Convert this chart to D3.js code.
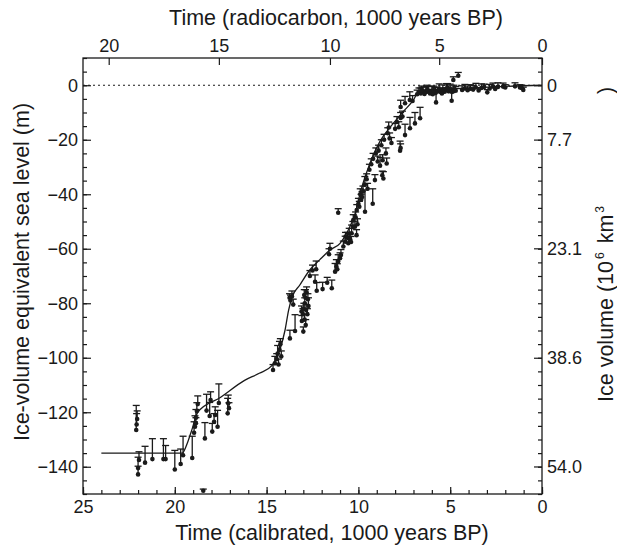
<!DOCTYPE html>
<html>
<head>
<meta charset="utf-8">
<script src="https://cdn.jsdelivr.net/npm/d3@7"></script>
<style>
  body { margin: 0; background: #fff; }
  svg text { font-family: "Liberation Sans", Arial, sans-serif; fill: #1a1a1a; }
  .tick line { stroke: #1a1a1a; stroke-width: 1.2; }
</style>
</head>
<body>
<script>
// calibrated ticks (kyr BP) and the radiocarbon ages that fall on them
const calTicks = [25, 20, 15, 10, 5, 0]
const c14Labels = ["20", "15", "10", "5", "0"]
const c14AtCal = [23.6, 17.6, 11.55, 5.6, 0]

const seaTicks = [0, -20, -40, -60, -80, -100, -120, -140]
const iceLabels = ["0", "7.7", "23.1", "38.6", "54.0"]
const iceVolume = [0, 7.7, 23.1, 38.6, 54.0]

// fitted sea-level curve [cal kyr BP, m]
const curve = [[24,-135],[19.6,-135],[19.3,-131],[19.05,-126],[18.75,-120],[17.5,-114.5],[16.2,-108.3],
  [15.4,-105.7],[14.7,-102.8],[14.3,-97.5],[14.0,-90],[13.8,-82.5],[13.6,-77.5],[13.2,-73.4],[12.65,-67.8],
  [12.1,-64],[11.55,-60.5],[11.0,-58],[10.6,-53.8],[10.2,-47.5],[9.82,-37.5],[9.37,-28.6],[8.82,-20.5],
  [8.2,-14.8],[7.55,-9.6],[7.0,-5.4],[6.8,-3.2],[6.3,-2.2],[5.9,-1.7],[4.1,-1.1],[2.3,-0.5],[0,0]]

// samples [cal kyr BP, sea level m, upper error m]
const lgmPoints = [[22.1,-126.5,9],[22.08,-124.5,4],[22.05,-122.5,3],[22.0,-142.8,3],[22.0,-140.5,4],[21.95,-137.5,3],
  [21.62,-138.5,6],[21.22,-137.2,7.5],[20.62,-137.2,7.5],[20.5,-137.2,5],[20.0,-141,7],[19.68,-139,5.5],
  [19.55,-135.8,7],[19.05,-136.8,8],[18.95,-127.5,4],[18.9,-125.3,4],[18.85,-122,3],[18.8,-119.5,3],
  [18.75,-117,3],[18.85,-124,2],[18.36,-129.6,5.8],[18.27,-119.4,6],[18.1,-121.4,5],[18.05,-115.5,3],
  [17.96,-127.1,3],[17.86,-123.5,3],[17.8,-121,3],[17.67,-125.3,6],[17.6,-116.6,7],[17.12,-120.4,5.5],
  [17.09,-116.7,3],[17.05,-118.5,2],[18.45,-148.8,0.6]]

const deglacialPoints = [[14.65,-104.5,2],[14.55,-102,2.5],[14.45,-100.5,2],[14.4,-98.5,3],[14.3,-97,3],
  [14.25,-95,2],[14.35,-102.5,2],[14.2,-99.5,2],[13.73,-92.9,3],[13.45,-90.2,6],[13.0,-90.4,1.7],
  [13.7,-79,2],[13.62,-77.5,2],[13.55,-80.5,2],[13.75,-78,1.5],[13.08,-86.5,2],[13.02,-84,2],[12.97,-82,2],
  [12.92,-80,2],[12.88,-78,3],[12.82,-76,2],[12.78,-84,2],[12.72,-81,3],[12.93,-86,2],[12.87,-88,2],
  [13.1,-83,2],[12.75,-78.5,2],[12.95,-77,2],[12.85,-82.5,2],[12.64,-70,2],[12.5,-68,2],[12.36,-72.1,2.5],
  [12.27,-75.4,3],[12.3,-67.5,3],[11.95,-74.8,2.5],[11.45,-74.5,3],[11.7,-72.5,2],[11.55,-60,2],[11.6,-62,2],
  [11.27,-68.4,3],[11.2,-66.5,2.5],[11.1,-64.7,2.5],[11.0,-63.5,2],[10.95,-62.3,2],[11.15,-67.5,2],
  [10.82,-59.2,2],[10.72,-57.4,2],[10.6,-56,2],[10.55,-58,2],[10.45,-56.5,2],[10.37,-54.3,3],[10.3,-52,2],
  [10.19,-51.9,2],[10.28,-49.5,2],[10.15,-48.5,2],[10.1,-55,2],[10.05,-51,2],[10.4,-57.5,2],[10.5,-54.5,2],
  [10.7,-55.5,1.5],[11.1,-46.8,1.5]]

const earlyHolocenePoints = [[10.09,-45.8,2],[9.95,-44.6,2],[9.85,-42,2],[9.75,-39,2],[9.64,-46.4,8],
  [9.65,-36.5,3],[9.55,-34.5,2],[9.5,-38,2],[9.9,-40,2],[10.0,-43.5,2],[9.8,-41,2],[9.22,-43.5,5.5],
  [9.1,-34.8,2],[8.64,-34.2,2.5],[8.7,-33,1.5],[9.2,-27,2],[9.05,-25,2],[8.95,-28,2],[8.82,-29.5,3],
  [8.68,-27.5,2],[8.46,-28.7,2],[8.5,-25,2],[9.3,-29,2],[9.4,-31,2],[8.4,-17.6,2],[8.3,-19.5,2],[8.2,-21.2,2],
  [8.35,-15.5,2],[8.6,-20,2],[8.75,-22,2],[8.9,-24,2],[7.73,-24,3.5],[7.7,-23,1.5],[7.9,-13.5,2],[7.8,-15.4,2],
  [7.7,-12,2],[8.0,-16,2],[7.6,-11.5,2],[7.46,-18.3,4],[7.19,-15.8,4],[6.92,-14,4],[6.64,-12.1,4],
  [7.46,-6.6,2.5],[7.2,-5.4,3],[7.7,-8,2.5],[7.05,-5.8,2]]

const lateHolocenePoints = [[6.8,-3.3,1.5],[6.7,-2.5,1.5],[6.6,-3,2],[6.5,-2.2,1.5],[6.4,-3.2,1.5],[6.3,-2.5,2],
  [6.2,-2,1.5],[6.1,-3,1.5],[6.0,-2.4,2],[5.9,-1.8,1.5],[5.8,-2.8,2],[5.7,-2.2,1.5],[5.6,-1.5,2],[5.5,-2.6,1.5],
  [5.4,-1.9,2],[5.3,-2.4,1.5],[5.2,-1.4,2],[5.1,-2.2,1.5],[5.0,-1.6,2],[4.9,-2.5,1.5],[4.8,-1.5,1.5],[4.7,-2,1.5],
  [6.55,-1.8,1.5],[6.25,-1.5,1.5],[5.95,-3.3,1.5],[5.45,-3,1.5],[5.15,-0.9,1.5],[5.77,-6.3,3.5],[4.92,-5.7,3],
  [4.83,1.9,1.2],[4.56,3.5,1.2],[4.35,-1.7,1.5],[4.2,-1.2,1.5],[4.05,-1.8,1.5],[3.9,-1.3,1.5],[3.75,-1.6,1.5],
  [3.6,-0.8,1.5],[3.45,-1.9,1],[3.3,-1,1.5],[3.15,-0.6,1],[2.98,-2.6,1],[2.85,-1.2,1.5],[2.67,-0.5,1.3],
  [2.55,-1.4,1],[2.4,-0.6,1.5],[2.12,-0.5,1.3],[2.0,-0.8,1],[1.47,-0.4,1.3],[1.2,-0.8,1],[1.02,-1.7,1],[1.1,-1,1]]

const samples = lgmPoints.concat(deglacialPoints, earlyHolocenePoints, lateHolocenePoints)

const W = 617, H = 545
const m = { left: 83, right: 542, top: 58, bottom: 494 }

const svg = d3.select("body").append("svg").attr("width", W).attr("height", H)

const x = d3.scaleLinear().domain([25, 0]).range([m.left, m.right])
const y = d3.scaleLinear().domain([-150, 10]).range([m.bottom, m.top])
// ice volume (10^6 km3) per metre of sea level
const icePerM = 0.386
const yIce = d3.scaleLinear().domain([-10 * icePerM, 150 * icePerM]).range([m.top, m.bottom])

const ink = "#1a1a1a"

// zero line
svg.append("line")
  .attr("x1", m.left).attr("x2", m.right)
  .attr("y1", y(0)).attr("y2", y(0))
  .attr("stroke", ink).attr("stroke-width", 1)
  .attr("stroke-dasharray", "2,3")

// minor ticks
const minorT = d3.range(0, 26, 1)
const minorS = d3.range(-150, 11, 5)

svg.append("g").attr("transform", `translate(0,${m.bottom})`)
  .call(d3.axisBottom(x).tickValues(minorT).tickSize(-4).tickFormat(""))
svg.append("g").attr("transform", `translate(${m.left},0)`)
  .call(d3.axisLeft(y).tickValues(minorS).tickSize(-4).tickFormat(""))
svg.append("g").attr("transform", `translate(${m.right},0)`)
  .call(d3.axisRight(y).tickValues(minorS).tickSize(-4).tickFormat(""))

// major axes
svg.append("g").attr("transform", `translate(0,${m.bottom})`)
  .call(d3.axisBottom(x).tickValues(calTicks).tickSize(-7).tickPadding(6).tickFormat(d3.format("d")))
svg.append("g").attr("transform", `translate(0,${m.top})`)
  .call(d3.axisTop(x).tickValues(c14AtCal).tickSize(-7).tickPadding(6).tickFormat((d, i) => c14Labels[i]))
svg.append("g").attr("transform", `translate(${m.left},0)`)
  .call(d3.axisLeft(y).tickValues(seaTicks).tickSize(-8).tickPadding(5))
svg.append("g").attr("transform", `translate(${m.right},0)`)
  .call(d3.axisRight(yIce).tickValues(iceVolume).tickSize(-8).tickPadding(5).tickFormat((d, i) => iceLabels[i]))

svg.selectAll(".domain").remove()
svg.selectAll(".tick text").style("font-size", "18px").attr("fill", ink)

// frame
svg.append("rect")
  .attr("x", m.left).attr("y", m.top)
  .attr("width", m.right - m.left).attr("height", m.bottom - m.top)
  .attr("fill", "none").attr("stroke", ink).attr("stroke-width", 1.3)

// curve
const line = d3.line().x(d => x(d[0])).y(d => y(d[1])).curve(d3.curveMonotoneX)
svg.append("path")
  .datum(curve)
  .attr("d", line)
  .attr("fill", "none").attr("stroke", ink).attr("stroke-width", 1.3)

// error bars and dots
const pts = svg.append("g")
pts.selectAll(".bar").data(samples).enter().append("line")
  .attr("x1", d => x(d[0])).attr("x2", d => x(d[0]))
  .attr("y1", d => y(d[1])).attr("y2", d => y(d[1] + d[2]))
  .attr("stroke", ink).attr("stroke-width", 1.3)
pts.selectAll(".cap").data(samples).enter().append("line")
  .attr("x1", d => x(d[0]) - 3.5).attr("x2", d => x(d[0]) + 3.5)
  .attr("y1", d => y(d[1] + d[2])).attr("y2", d => y(d[1] + d[2]))
  .attr("stroke", ink).attr("stroke-width", 1.3)
pts.selectAll("circle").data(samples).enter().append("circle")
  .attr("cx", d => x(d[0])).attr("cy", d => y(d[1]))
  .attr("r", 2.3).attr("fill", ink)

// axis titles
svg.append("text")
  .attr("x", 332).attr("y", 540)
  .attr("text-anchor", "middle").style("font-size", "21.5px")
  .text("Time (calibrated, 1000 years BP)")
svg.append("text")
  .attr("x", 336).attr("y", 25)
  .attr("text-anchor", "middle").style("font-size", "21.5px")
  .text("Time (radiocarbon, 1000 years BP)")
svg.append("text")
  .attr("transform", `translate(29,272) rotate(-90)`)
  .attr("text-anchor", "middle").style("font-size", "21.5px")
  .text("Ice-volume equivalent sea level (m)")

// right title, spaced like the original
const iceTitle = svg.append("text")
  .attr("transform", `translate(613,402) rotate(-90)`)
  .attr("text-anchor", "start").style("font-size", "21.5px")
iceTitle.append("tspan").text("Ice volume (10")
iceTitle.append("tspan").attr("dx", 2).attr("dy", -9).style("font-size", "12px").text("6")
iceTitle.append("tspan").attr("dx", 9).attr("dy", 9).text("km")
iceTitle.append("tspan").attr("dx", 2).attr("dy", -9).style("font-size", "12px").text("3")
iceTitle.append("tspan").attr("dx", 112).attr("dy", 9).text(")")
</script>
</body>
</html>
